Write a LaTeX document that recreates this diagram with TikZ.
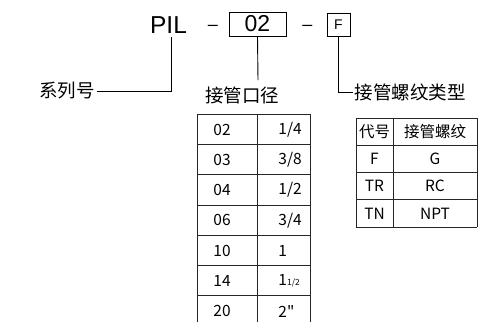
\documentclass[tikz,border=0pt]{standalone}
\usepackage{fontspec}
\setmainfont{Liberation Sans}
\newfontfamily\cjk{Noto Sans CJK SC}
\begin{document}
\begin{tikzpicture}[x=1pt,y=-1pt,line width=0.9pt]
\tikzset{
  big/.style={font=\fontsize{24.5}{24.5}\selectfont, inner sep=0pt},
  dashtxt/.style={font=\fontsize{18}{18}\selectfont, inner sep=0pt},
  codebox/.style={draw, inner sep=0pt, font=\fontsize{23}{23}\selectfont},
  smallbox/.style={draw, inner sep=0pt, font=\fontsize{14}{14}\selectfont},
  lab/.style={font=\cjk\fontsize{18.5}{18.5}\selectfont, inner sep=1.5pt},
  cell/.style={font=\cjk\fontsize{15.5}{15.5}\selectfont, inner sep=0pt},
  grid/.style={line width=0.8pt, black!85}
}
\useasboundingbox (0,0) rectangle (482,322);
% code line
\node[big] (pil) at (168.5,25) {PIL};
\node[dashtxt, anchor=base] (d1) at (213,30) {–};
\node[codebox, minimum width=57pt, minimum height=24pt] (b02) at (257.5,24) {02};
\node[dashtxt, anchor=base] (d2) at (307.5,30) {–};
\node[smallbox, minimum width=23pt, minimum height=23pt] (bF) at (338.5,24.5) {F};
% labels
\node[lab, anchor=east] (xl) at (96.5,91) {系列号};
\node[lab, anchor=north] (jg) at (242,85) {接管口径};
\node[lab, anchor=west] (lw) at (353,92) {接管螺纹类型};
\coordinate (pilI) at (171,37);
\draw (pilI) |- (xl.east);
\coordinate (b02end) at (258,80);
\draw (b02.south) -- (b02end);
\draw (bF.south) |- (lw.west);
% table 1
\begin{scope}[grid]
\foreach \k in {0,...,6} { \draw (197,114+30.3*\k) -- (310,114+30.3*\k); }
\draw (197,114) -- (197,322);
\draw (257,114) -- (257,322);
\draw (310,114) -- (310,322);
\end{scope}
\foreach \a/\b [count=\i from 0] in {02/{1/4},03/{3/8},04/{1/2},06/{3/4},10/{1},14/{1{\fontsize{8.5}{8.5}\selectfont 1/2}},20/{2"}} {
  \node[cell] (ta\i) at (222,129.5+30.3*\i) {\a};
  \node[cell, anchor=west] (tb\i) at (278,129.5+30.3*\i) {\b};
}
% table 2
\begin{scope}[grid]
\foreach \k in {0,...,4} { \draw (356,118+27.25*\k) -- (477,118+27.25*\k); }
\draw (356,118) -- (356,227);
\draw (393,118) -- (393,227);
\draw (477,118) -- (477,227);
\end{scope}
\foreach \a/\b [count=\i from 0] in {代号/接管螺纹,F/G,TR/RC,TN/NPT} {
  \node[cell] (ua\i) at (374.5,131.6+27.25*\i) {\a};
  \node[cell] (ub\i) at (435,131.6+27.25*\i) {\b};
}
\end{tikzpicture}
\end{document}
